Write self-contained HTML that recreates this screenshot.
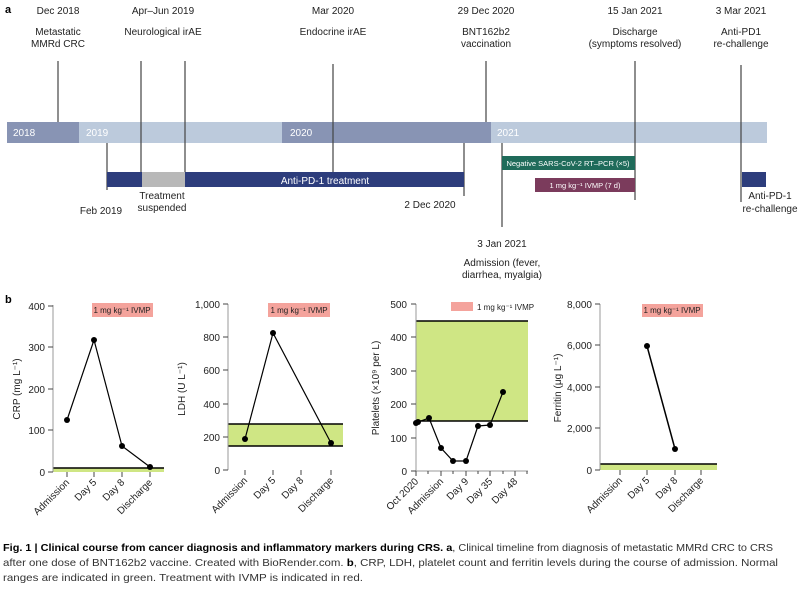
<!DOCTYPE html>
<html><head><meta charset="utf-8"><style>
body{margin:0;background:#fff}
svg{display:block;font-family:"Liberation Sans",Arial,sans-serif}
</style></head><body>
<svg width="800" height="590" viewBox="0 0 800 590" xmlns="http://www.w3.org/2000/svg">
<!-- Panel a -->
<text x="5" y="13" font-size="11" font-weight="bold">a</text>
<g font-size="10" fill="#222" text-anchor="middle">
<text x="58" y="14">Dec 2018</text><text x="58" y="35">Metastatic</text><text x="58" y="47">MMRd CRC</text>
<text x="163" y="14">Apr–Jun 2019</text><text x="163" y="35">Neurological irAE</text>
<text x="333" y="14">Mar 2020</text><text x="333" y="35">Endocrine irAE</text>
<text x="486" y="14">29 Dec 2020</text><text x="486" y="35">BNT162b2</text><text x="486" y="47">vaccination</text>
<text x="635" y="14">15 Jan 2021</text><text x="635" y="35">Discharge</text><text x="635" y="47">(symptoms resolved)</text>
<text x="741" y="14">3 Mar 2021</text><text x="741" y="35">Anti-PD1</text><text x="741" y="47">re-challenge</text>
<text x="101" y="214">Feb 2019</text>
<text x="162" y="199">Treatment</text><text x="162" y="211">suspended</text>
<text x="430" y="208">2 Dec 2020</text>
<text x="502" y="247">3 Jan 2021</text><text x="502" y="266">Admission (fever,</text><text x="502" y="278">diarrhea, myalgia)</text>
<text x="770" y="199">Anti-PD-1</text><text x="770" y="212">re-challenge</text>
</g>
<rect x="7" y="122" width="72" height="21" fill="#8894b4"/>
<rect x="79" y="122" width="203" height="21" fill="#bccadc"/>
<rect x="282" y="122" width="209" height="21" fill="#8894b4"/>
<rect x="491" y="122" width="276" height="21" fill="#bccadc"/>
<g fill="#fff" font-size="10"><text x="13" y="136">2018</text><text x="86" y="136">2019</text><text x="290" y="136">2020</text><text x="497" y="136">2021</text></g>
<g stroke="#444" stroke-width="1.2">
<line x1="58" y1="61" x2="58" y2="122"/>
<line x1="141" y1="61" x2="141" y2="172"/>
<line x1="185" y1="61" x2="185" y2="172"/>
<line x1="333" y1="64" x2="333" y2="172"/>
<line x1="486" y1="61" x2="486" y2="122"/>
<line x1="635" y1="61" x2="635" y2="200"/>
<line x1="741" y1="65" x2="741" y2="202"/>
<line x1="107" y1="143" x2="107" y2="190"/>
<line x1="464" y1="143" x2="464" y2="196"/>
<line x1="502" y1="143" x2="502" y2="227"/>
</g>
<rect x="107" y="172" width="357" height="15" fill="#2d3d7c"/>
<rect x="142" y="172" width="43" height="15" fill="#b8b8b8"/>
<text x="325" y="184" fill="#fff" font-size="10" text-anchor="middle">Anti-PD-1 treatment</text>
<rect x="502" y="156" width="133" height="14" fill="#1f6b5a"/>
<text x="568" y="166" fill="#fff" font-size="7.5" text-anchor="middle">Negative SARS-CoV-2 RT–PCR (×5)</text>
<rect x="535" y="178" width="100" height="14" fill="#7b3b5c"/>
<text x="585" y="188" fill="#fff" font-size="7.5" text-anchor="middle">1 mg kg⁻¹ IVMP (7 d)</text>
<rect x="742" y="172" width="24" height="15" fill="#2d3d7c"/>

<!-- Panel b -->
<text x="5" y="303" font-size="11" font-weight="bold">b</text>
<g font-size="10" fill="#222">
<!-- CRP -->
<rect x="53" y="468" width="111" height="4" fill="#cfe684"/>
<line x1="53" y1="468" x2="164" y2="468" stroke="#000" stroke-width="1.5"/>
<line x1="53" y1="305" x2="53" y2="472" stroke="#999"/>
<g stroke="#444"><line x1="48" y1="306" x2="53" y2="306"/><line x1="48" y1="347" x2="53" y2="347"/><line x1="48" y1="389" x2="53" y2="389"/><line x1="48" y1="430" x2="53" y2="430"/><line x1="48" y1="472" x2="53" y2="472"/>
<line x1="67" y1="472" x2="67" y2="477"/><line x1="94" y1="472" x2="94" y2="477"/><line x1="122" y1="472" x2="122" y2="477"/><line x1="150" y1="472" x2="150" y2="477"/></g>
<g text-anchor="end"><text x="45" y="310">400</text><text x="45" y="351">300</text><text x="45" y="393">200</text><text x="45" y="434">100</text><text x="45" y="476">0</text></g>
<polyline points="67,420 94,340 122,446 150,467" fill="none" stroke="#000" stroke-width="1.2"/>
<g fill="#000"><circle cx="67" cy="420" r="3"/><circle cx="94" cy="340" r="3"/><circle cx="122" cy="446" r="3"/><circle cx="150" cy="467" r="3"/></g>
<text transform="translate(20,389) rotate(-90)" text-anchor="middle">CRP (mg L⁻¹)</text>
<rect x="92" y="303" width="61" height="14" fill="#f4a39c"/>
<text x="122" y="313" font-size="8" text-anchor="middle">1 mg kg⁻¹ IVMP</text>
<g text-anchor="end"><text transform="translate(70,483) rotate(-45)">Admission</text><text transform="translate(97,483) rotate(-45)">Day 5</text><text transform="translate(125,483) rotate(-45)">Day 8</text><text transform="translate(153,483) rotate(-45)">Discharge</text></g>

<!-- LDH -->
<rect x="228" y="424" width="115" height="22" fill="#cfe684"/>
<line x1="228" y1="424" x2="343" y2="424" stroke="#000" stroke-width="1.5"/>
<line x1="228" y1="446" x2="343" y2="446" stroke="#000" stroke-width="1.5"/>
<line x1="228" y1="304" x2="228" y2="470" stroke="#999"/>
<g stroke="#444"><line x1="223" y1="304" x2="228" y2="304"/><line x1="223" y1="337" x2="228" y2="337"/><line x1="223" y1="370" x2="228" y2="370"/><line x1="223" y1="404" x2="228" y2="404"/><line x1="223" y1="437" x2="228" y2="437"/><line x1="223" y1="470" x2="228" y2="470"/>
<line x1="245" y1="470" x2="245" y2="475"/><line x1="273" y1="470" x2="273" y2="475"/><line x1="301" y1="470" x2="301" y2="475"/><line x1="331" y1="470" x2="331" y2="475"/></g>
<g text-anchor="end"><text x="220" y="308">1,000</text><text x="220" y="341">800</text><text x="220" y="374">600</text><text x="220" y="408">400</text><text x="220" y="441">200</text><text x="220" y="474">0</text></g>
<polyline points="245,439 273,333 331,443" fill="none" stroke="#000" stroke-width="1.2"/>
<g fill="#000"><circle cx="245" cy="439" r="3"/><circle cx="273" cy="333" r="3"/><circle cx="331" cy="443" r="3"/></g>
<text transform="translate(185,389) rotate(-90)" text-anchor="middle">LDH (U L⁻¹)</text>
<rect x="268" y="303" width="62" height="14" fill="#f4a39c"/>
<text x="299" y="313" font-size="8" text-anchor="middle">1 mg kg⁻¹ IVMP</text>
<g text-anchor="end"><text transform="translate(248,481) rotate(-45)">Admission</text><text transform="translate(276,481) rotate(-45)">Day 5</text><text transform="translate(304,481) rotate(-45)">Day 8</text><text transform="translate(334,481) rotate(-45)">Discharge</text></g>

<!-- Platelets -->
<rect x="416" y="321" width="112" height="100" fill="#cfe684"/>
<line x1="416" y1="321" x2="528" y2="321" stroke="#000" stroke-width="1.5"/>
<line x1="416" y1="421" x2="528" y2="421" stroke="#000" stroke-width="1.5"/>
<line x1="416" y1="304" x2="416" y2="471" stroke="#999"/>
<line x1="416" y1="471" x2="528" y2="471" stroke="#999"/>
<g stroke="#444"><line x1="411" y1="304" x2="416" y2="304"/><line x1="411" y1="337" x2="416" y2="337"/><line x1="411" y1="371" x2="416" y2="371"/><line x1="411" y1="404" x2="416" y2="404"/><line x1="411" y1="438" x2="416" y2="438"/><line x1="411" y1="471" x2="416" y2="471"/>
<line x1="416" y1="471" x2="416" y2="476"/><line x1="428" y1="471" x2="428" y2="474"/><line x1="441" y1="471" x2="441" y2="476"/><line x1="453" y1="471" x2="453" y2="474"/><line x1="466" y1="471" x2="466" y2="476"/><line x1="478" y1="471" x2="478" y2="474"/><line x1="490" y1="471" x2="490" y2="476"/><line x1="503" y1="471" x2="503" y2="474"/><line x1="515" y1="471" x2="515" y2="476"/><line x1="527" y1="471" x2="527" y2="474"/></g>
<g text-anchor="end"><text x="407" y="308">500</text><text x="407" y="341">400</text><text x="407" y="375">300</text><text x="407" y="408">200</text><text x="407" y="442">100</text><text x="407" y="475">0</text></g>
<polyline points="416,423 418,422 429,418 441,448 453,461 466,461 478,426 490,425 503,392" fill="none" stroke="#000" stroke-width="1.2"/>
<g fill="#000"><circle cx="416" cy="423" r="3"/><circle cx="418" cy="422" r="3"/><circle cx="429" cy="418" r="3"/><circle cx="441" cy="448" r="3"/><circle cx="453" cy="461" r="3"/><circle cx="466" cy="461" r="3"/><circle cx="478" cy="426" r="3"/><circle cx="490" cy="425" r="3"/><circle cx="503" cy="392" r="3"/></g>
<text transform="translate(379,388) rotate(-90)" text-anchor="middle">Platelets (×10⁹ per L)</text>
<rect x="451" y="302" width="22" height="9" fill="#f4a39c"/>
<text x="477" y="310" font-size="8">1 mg kg⁻¹ IVMP</text>
<g text-anchor="end"><text transform="translate(419,482) rotate(-45)">Oct 2020</text><text transform="translate(444,482) rotate(-45)">Admission</text><text transform="translate(469,482) rotate(-45)">Day 9</text><text transform="translate(493,482) rotate(-45)">Day 35</text><text transform="translate(518,482) rotate(-45)">Day 48</text></g>

<!-- Ferritin -->
<rect x="600" y="464" width="117" height="6" fill="#cfe684"/>
<line x1="600" y1="464" x2="717" y2="464" stroke="#000" stroke-width="1.5"/>
<line x1="600" y1="304" x2="600" y2="470" stroke="#999"/>
<g stroke="#444"><line x1="595" y1="304" x2="600" y2="304"/><line x1="595" y1="345" x2="600" y2="345"/><line x1="595" y1="387" x2="600" y2="387"/><line x1="595" y1="428" x2="600" y2="428"/><line x1="595" y1="470" x2="600" y2="470"/>
<line x1="620" y1="470" x2="620" y2="475"/><line x1="647" y1="470" x2="647" y2="475"/><line x1="675" y1="470" x2="675" y2="475"/><line x1="701" y1="470" x2="701" y2="475"/></g>
<g text-anchor="end"><text x="592" y="308">8,000</text><text x="592" y="349">6,000</text><text x="592" y="391">4,000</text><text x="592" y="432">2,000</text><text x="592" y="474">0</text></g>
<polyline points="647,346 675,449" fill="none" stroke="#000" stroke-width="1.5"/>
<g fill="#000"><circle cx="647" cy="346" r="3"/><circle cx="675" cy="449" r="3"/></g>
<text transform="translate(561,388) rotate(-90)" text-anchor="middle">Ferritin (μg L⁻¹)</text>
<rect x="642" y="304" width="61" height="13" fill="#f4a39c"/>
<text x="672" y="313" font-size="8" text-anchor="middle">1 mg kg⁻¹ IVMP</text>
<g text-anchor="end"><text transform="translate(623,481) rotate(-45)">Admission</text><text transform="translate(650,481) rotate(-45)">Day 5</text><text transform="translate(678,481) rotate(-45)">Day 8</text><text transform="translate(704,481) rotate(-45)">Discharge</text></g>
</g>

<!-- caption -->
<g font-size="10.5" fill="#333">
<text x="3" y="551" textLength="770" lengthAdjust="spacingAndGlyphs"><tspan font-weight="bold" fill="#000">Fig. 1 | Clinical course from cancer diagnosis and inflammatory markers during CRS. a</tspan>, Clinical timeline from diagnosis of metastatic MMRd CRC to CRS</text>
<text x="3" y="566" textLength="775" lengthAdjust="spacingAndGlyphs">after one dose of BNT162b2 vaccine. Created with BioRender.com. <tspan font-weight="bold" fill="#000">b</tspan>, CRP, LDH, platelet count and ferritin levels during the course of admission. Normal</text>
<text x="3" y="581" textLength="360" lengthAdjust="spacingAndGlyphs">ranges are indicated in green. Treatment with IVMP is indicated in red.</text>
</g>
</svg>
</body></html>
